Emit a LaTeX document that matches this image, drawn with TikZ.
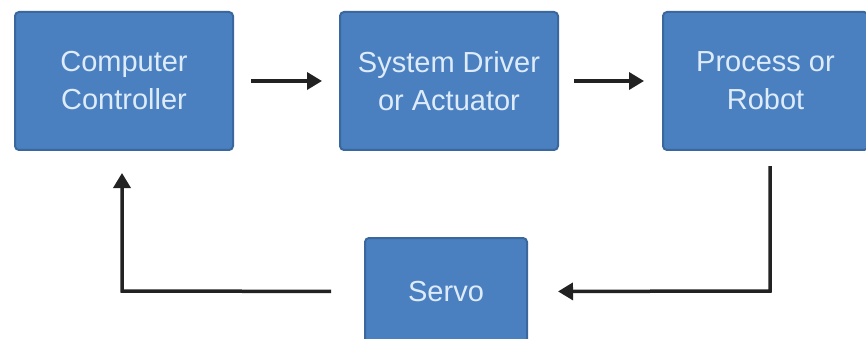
\documentclass[tikz,border=0pt]{standalone}
\usepackage{fontspec}
\setmainfont{Liberation Sans}
\usetikzlibrary{arrows.meta,calc}

\definecolor{boxfill}{HTML}{4A80C0}
\definecolor{boxedge}{HTML}{3A679E}
\definecolor{boxtext}{HTML}{DDEBFA}
\definecolor{wire}{HTML}{222222}

\tikzset{
  block/.style={draw=boxedge, line width=2pt, fill=boxfill, rounded corners=4pt,
    text=boxtext, align=center, inner sep=0pt,
    font=\fontsize{29}{38}\selectfont},
  flow/.style={draw=wire, line width=3.5pt, line cap=butt,
    -{Triangle[length=15pt,width=17pt]}}
}

\begin{document}
\begin{tikzpicture}[x=1pt,y=-1pt]
  \clip (0,0) rectangle (866,339);
  \fill[white] (0,0) rectangle (866,339);

  % forward path
  \node[block, minimum width=218pt, minimum height=138pt] (ctrl) at (124,81)
    {Computer\\Controller};
  \node[block, minimum width=218pt, minimum height=138pt] (drv) at (449,81)
    {System Driver\\or Actuator};
  \node[block, minimum width=205pt, minimum height=138pt] (proc) at (765.5,81)
    {Process or\\Robot};

  % feedback element
  \node[block, minimum width=162pt, minimum height=107pt] (servo) at (446,291.5)
    {Servo};

  % bends of the feedback loop
  \coordinate (rbend) at (770,291);
  \coordinate (lbend) at (122,291);

  % connectors
  \draw[flow, shorten <=17pt, shorten >=17pt] (ctrl) -- (drv);
  \draw[flow, shorten <=15pt, shorten >=18pt] (drv) -- (proc);
  \draw[flow, shorten <=15pt, shorten >=30pt] (proc.south -| rbend) -- (rbend) -- (servo.east);
  \draw[flow, shorten <=33pt, shorten >=22pt] (servo.west) -- (lbend) -- (lbend |- ctrl.south);
\end{tikzpicture}
\end{document}
